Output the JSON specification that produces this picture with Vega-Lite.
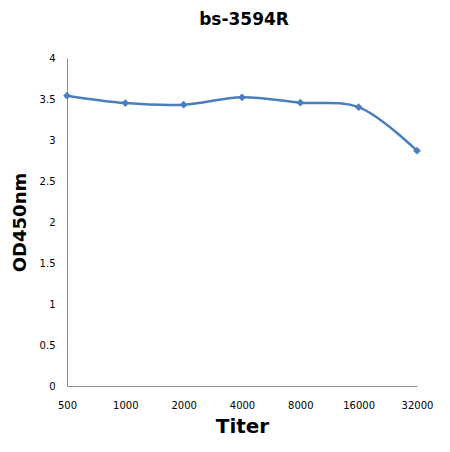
{
  "$schema": "https://vega.github.io/schema/vega-lite/v6.json",
  "autosize": {"type": "none"},
  "width": 354,
  "height": 328,
  "padding": {"left": 67, "top": 58, "right": 29, "bottom": 66},
  "background": "white",
  "title": {
    "text": "bs-3594R",
    "fontSize": 17,
    "fontWeight": "bold",
    "font": "DejaVu Sans",
    "color": "#000000",
    "offset": 24
  },
  "data": {
    "values": [
      {"titer": "500", "od": 3.54},
      {"titer": "1000", "od": 3.45},
      {"titer": "2000", "od": 3.43},
      {"titer": "4000", "od": 3.52},
      {"titer": "8000", "od": 3.455},
      {"titer": "16000", "od": 3.40},
      {"titer": "32000", "od": 2.87}
    ]
  },
  "encoding": {
    "x": {
      "field": "titer",
      "type": "ordinal",
      "sort": null,
      "scale": {"type": "point", "range": [0, 350], "padding": 0},
      "axis": {
        "title": "Titer",
        "titleFontSize": 20,
        "titleFont": "DejaVu Sans",
        "titleFontWeight": "bold",
        "titleColor": "#000000",
        "titlePadding": 6,
        "labelFont": "DejaVu Sans",
        "labelFontSize": 10,
        "labelColor": "#000000",
        "labelAngle": 0,
        "labelPadding": 14,
        "ticks": false,
        "domainColor": "#8c8c8c",
        "grid": false
      }
    },
    "y": {
      "field": "od",
      "type": "quantitative",
      "scale": {"domain": [0, 4], "nice": false},
      "axis": {
        "title": "OD450nm",
        "titleFontSize": 18,
        "titleFont": "DejaVu Sans",
        "titleFontWeight": "bold",
        "titleColor": "#000000",
        "titlePadding": 10,
        "values": [0, 0.5, 1, 1.5, 2, 2.5, 3, 3.5, 4],
        "labelExpr": "datum.value + ''",
        "labelFont": "DejaVu Sans",
        "labelFontSize": 10,
        "labelColor": "#000000",
        "labelPadding": 12,
        "ticks": false,
        "domainColor": "#8c8c8c",
        "grid": false
      }
    }
  },
  "layer": [
    {
      "mark": {"type": "line", "interpolate": "catmull-rom", "color": "#4A7EBF", "strokeWidth": 2.5}
    },
    {
      "mark": {"type": "point", "shape": "diamond", "filled": true, "color": "#4A7EBF", "size": 60, "opacity": 1}
    }
  ],
  "config": {
    "view": {"stroke": null}
  }
}
